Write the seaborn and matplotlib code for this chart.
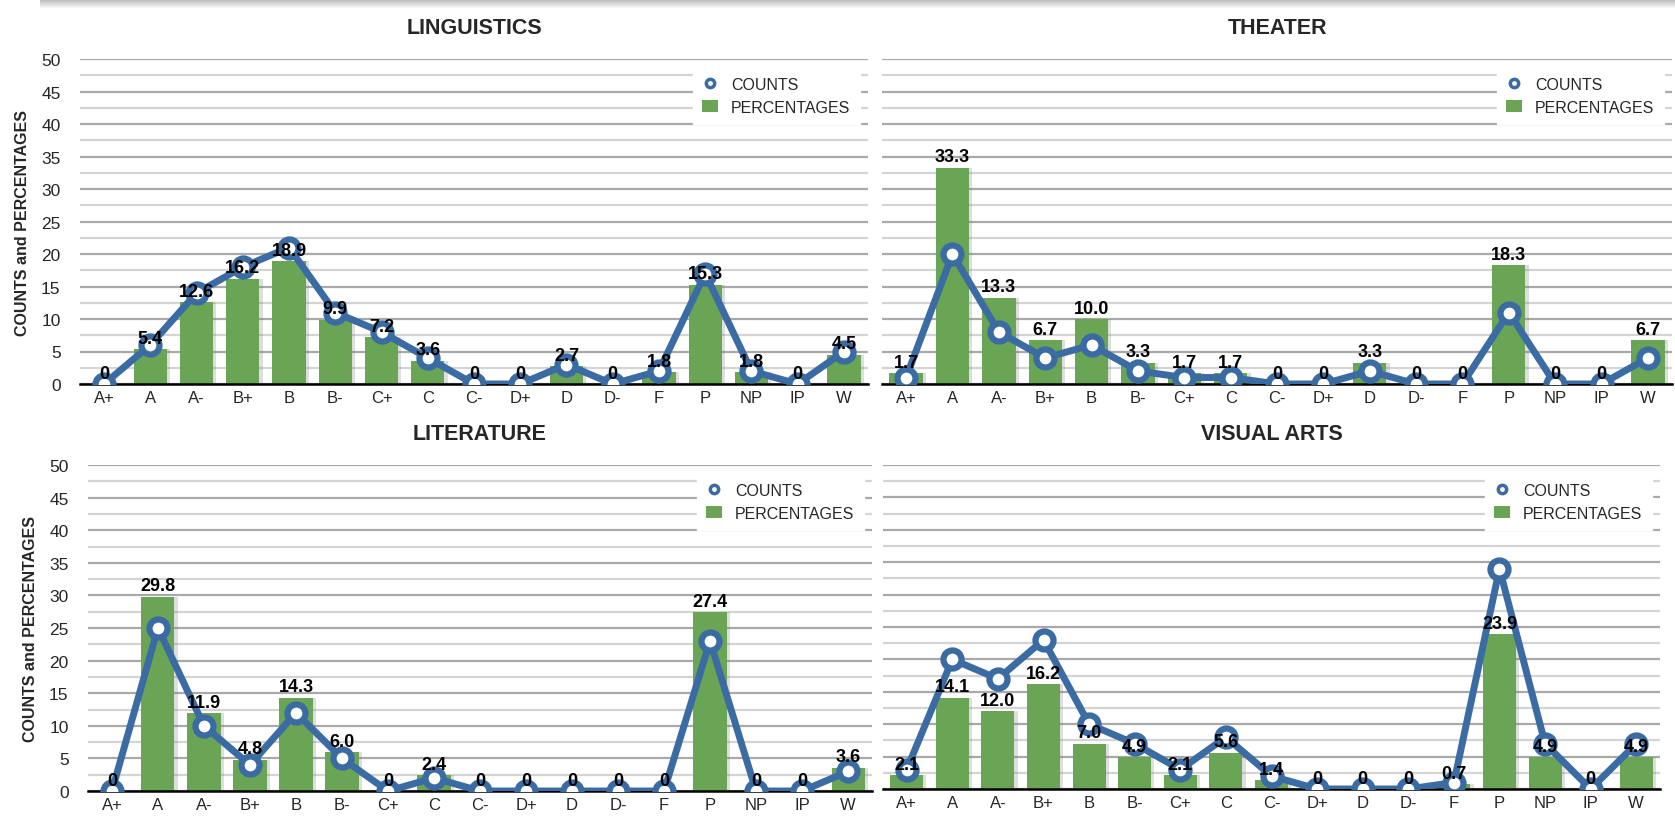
import numpy as np
import pandas as pd
import matplotlib
matplotlib.use('Agg')
import matplotlib.pyplot as plt
from matplotlib.lines import Line2D
from matplotlib.patches import Patch
import seaborn as sns

# Grade categories shared by all panels
grades = ['A+', 'A', 'A-', 'B+', 'B', 'B-', 'C+', 'C', 'C-', 'D+', 'D', 'D-', 'F', 'P', 'NP', 'IP', 'W']

# Counts per grade
ling_counts = [0, 6, 14, 18, 21, 11, 8, 4, 0, 0, 3, 0, 2, 17, 2, 0, 5]
theater_counts = [1, 20, 8, 4, 6, 2, 1, 1, 0, 0, 2, 0, 0, 11, 0, 0, 4]
lit_counts = [0, 25, 10, 4, 12, 5, 0, 2, 0, 0, 0, 0, 0, 23, 0, 0, 3]
visual_counts = [3, 20, 17, 23, 10, 7, 3, 8, 2, 0, 0, 0, 1, 34, 7, 0, 7]

# Percentages per grade
ling_pct = [0, 5.4, 12.6, 16.2, 18.9, 9.9, 7.2, 3.6, 0, 0, 2.7, 0, 1.8, 15.3, 1.8, 0, 4.5]
theater_pct = [1.7, 33.3, 13.3, 6.7, 10.0, 3.3, 1.7, 1.7, 0, 0, 3.3, 0, 0, 18.3, 0, 0, 6.7]
lit_pct = [0, 29.8, 11.9, 4.8, 14.3, 6.0, 0, 2.4, 0, 0, 0, 0, 0, 27.4, 0, 0, 3.6]
visual_pct = [2.1, 14.1, 12.0, 16.2, 7.0, 4.9, 2.1, 5.6, 1.4, 0, 0, 0, 0.7, 23.9, 4.9, 0, 4.9]

titles = ['LINGUISTICS', 'THEATER', 'LITERATURE', 'VISUAL ARTS']

sns.set_theme(style='white')
plt.rcParams['font.family'] = ['Liberation Sans', 'DejaVu Sans']
narrow = ['Liberation Sans Narrow', 'Liberation Sans', 'DejaVu Sans']

line_blue = '#3b6ba3'
bar_green = '#6aa556'

fig = plt.figure(figsize=(16.75, 8.28), dpi=100)
W, H = 1675, 828

# axes boxes in pixels: left, right, top(y=50), bottom(y=0)
boxes = [
    (80, 868, 60, 385),
    (882, 1672, 60, 385),
    (88, 872, 466, 792),
    (883, 1660, 466, 790),
]

panels = [
    (ling_counts, ling_pct),
    (theater_counts, theater_pct),
    (lit_counts, lit_pct),
    (visual_counts, visual_pct),
]

# soft grey band along the top edge
band = fig.add_axes([40 / W, 1 - 10 / H, 1 - 40 / W, 10 / H])
grad = np.linspace(0.72, 1.0, 20).reshape(-1, 1)
band.imshow(np.repeat(grad, 2, axis=1), cmap='gray', vmin=0, vmax=1, aspect='auto')
band.axis('off')

for k, (box, (counts, pct)) in enumerate(zip(boxes, panels)):
    l, r, t, b = box
    ax = fig.add_axes([l / W, 1 - b / H, (r - l) / W, (b - t) / H])
    df = pd.DataFrame({'grade': grades, 'count': counts, 'pct': pct})
    pos = np.arange(len(grades))

    # shadow under the bars
    ax.bar(pos + 0.07, df['pct'], width=0.72, color='#7f7f7f', alpha=0.25, zorder=1, linewidth=0)
    sns.barplot(data=df, x='grade', y='pct', color=bar_green, saturation=1, width=0.72,
                ax=ax, zorder=2, linewidth=0)
    sns.lineplot(x=pos, y=df['count'], ax=ax, color=line_blue, linewidth=5, marker='o',
                 markersize=13, markerfacecolor='white', markeredgecolor=line_blue,
                 markeredgewidth=4.5, zorder=4)

    for i, v in enumerate(pct):
        label = '0' if v == 0 else f'{v:.1f}'
        ax.text(i, v + 0.35, label, ha='center', va='bottom', fontsize=13,
                fontweight='bold', family=narrow, color='black', zorder=5)

    ax.set_xlim(-0.52, len(grades) - 0.48)
    ax.set_ylim(0, 50)
    ax.set_yticks(np.arange(0, 51, 5))
    ax.set_yticks(np.arange(2.5, 50, 5), minor=True)
    ax.grid(axis='y', which='major', color='#a9a9a9', linewidth=1.6, zorder=0)
    ax.grid(axis='y', which='minor', color='#d4d4d4', linewidth=1.6, zorder=0)
    ax.set_axisbelow(True)
    for s in ['top', 'right', 'left']:
        ax.spines[s].set_visible(False)
    ax.spines['bottom'].set_color('black')
    ax.spines['bottom'].set_linewidth(1.8)
    ax.spines['bottom'].set_zorder(3)
    ax.tick_params(axis='x', length=0, labelsize=12, pad=4)
    ax.tick_params(axis='y', which='both', length=0, labelsize=12.5, pad=14)
    ax.set_xlabel('')
    if k % 2 == 0:
        ax.set_ylabel('COUNTS and PERCENTAGES', fontsize=11.5, fontweight='bold', labelpad=8)
    else:
        ax.set_ylabel('')
        ax.set_yticklabels([])
    ax.set_title(titles[k], fontsize=15.5, fontweight='bold', family=narrow, pad=19)

    handles = [
        Line2D([], [], color=line_blue, marker='o', linestyle='none', markersize=6,
               markerfacecolor='white', markeredgewidth=2.5),
        Patch(facecolor=bar_green, edgecolor='none'),
    ]
    leg = ax.legend(handles, ['COUNTS', 'PERCENTAGES'], loc='upper right',
                    bbox_to_anchor=(1.0, 1.0), fontsize=11.5, frameon=True,
                    handlelength=1.0, handletextpad=0.8, borderpad=0.6,
                    labelspacing=0.5, fancybox=False)
    leg.get_frame().set_facecolor('white')
    leg.get_frame().set_edgecolor('white')
    leg.get_frame().set_alpha(1)
    leg.set_zorder(6)

fig.savefig('out.png', dpi=100)
